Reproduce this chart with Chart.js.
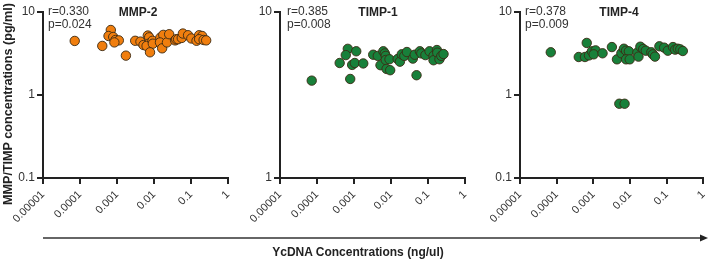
<!DOCTYPE html>
<html>
<head>
<meta charset="utf-8">
<script src="https://cdn.jsdelivr.net/npm/chart.js@4/dist/chart.umd.min.js"></script>
<style>
  html, body { margin: 0; padding: 0; background: #fff; }
  body { width: 709px; height: 261px; position: relative; overflow: hidden; font-family: "Liberation Sans", Arial, sans-serif; color: #333; }
  .cv { position: absolute; top: 0; }
  .txt { position: absolute; font-size: 12px; line-height: 13px; white-space: nowrap; color: #333; }
  .ttl { position: absolute; font-size: 12px; font-weight: bold; white-space: nowrap; color: #222; transform: translateX(-50%); }
  #ylab { position: absolute; left: 8px; top: 104px; font-size: 12.6px; font-weight: bold; color: #222; white-space: nowrap; transform: translate(-50%, -50%) rotate(-90deg); }
  #xlab { position: absolute; left: 358px; top: 245px; font-size: 12px; font-weight: bold; color: #222; white-space: nowrap; transform: translateX(-50%); }
  #arrow { position: absolute; left: 0; top: 0; }
</style>
</head>
<body>
<div class="cv" style="left:0px;width:240px;height:232px;"><canvas id="c1"></canvas></div>
<div class="cv" style="left:240px;width:240px;height:232px;"><canvas id="c2"></canvas></div>
<div class="cv" style="left:470px;width:239px;height:232px;"><canvas id="c3"></canvas></div>
<svg id="arrow" width="709" height="261">
  <line x1="43" y1="238" x2="702" y2="238" stroke="#333" stroke-width="1.6"/>
  <polygon points="708,238 700,234.5 700,241.5" fill="#222"/>
</svg>
<div id="ylab">MMP/TIMP concentrations (pg/ml)</div>
<div id="xlab">YcDNA Concentrations (ng/ul)</div>
<div id="notes"></div>
<script>
// ---- data ----
const panelTitles = ["MMP-2", "TIMP-1", "TIMP-4"];
const rValues = ["r=0.330", "r=0.385", "r=0.378"];
const pValues = ["p=0.024", "p=0.008", "p=0.009"];
const xTickValues = [0.00001, 0.0001, 0.001, 0.01, 0.1, 1];
const xTickLabels = ["0.00001", "0.0001", "0.001", "0.01", "0.1", "1"];
const yTickValuesWide = [0.1, 1, 10];
const yTickLabelsWide = ["0.1", "1", "10"];
const yTickValuesNarrow = [1, 10];
const yTickLabelsNarrow = ["1", "10"];

const mmp2X = [7.2e-5, 4.0e-4, 6.8e-4, 5.9e-4, 7.9e-4, 9.1e-4, 1.12e-3, 8.5e-4, 1.74e-3, 3.1e-3, 4.3e-3, 5.2e-3, 6.8e-3, 7.4e-3, 7.1e-3, 6.3e-3, 9.1e-3, 9.3e-3, 7.8e-3, 0.0148, 0.0178, 0.0145, 0.0166, 0.0224, 0.0257, 0.0372, 0.0398, 0.0447, 0.0562, 0.0603, 0.0832, 0.102, 0.141, 0.166, 0.2, 0.166, 0.219, 0.257];
const mmp2Y = [4.48, 3.9, 6.07, 5.14, 5.0, 4.6, 4.55, 4.3, 2.98, 4.5, 4.4, 4.0, 5.2, 4.95, 4.15, 3.9, 4.5, 4.15, 3.27, 4.9, 5.3, 4.3, 3.65, 4.3, 5.4, 4.55, 4.7, 4.7, 4.87, 5.5, 5.25, 4.8, 4.5, 5.25, 5.14, 4.7, 4.6, 4.55];

const timp1X = [7.2e-5, 6.8e-4, 6.0e-4, 1.15e-3, 4.1e-4, 8.9e-4, 1.05e-3, 1.78e-3, 7.9e-4, 3.3e-3, 4.4e-3, 6.2e-3, 6.8e-3, 7.2e-3, 5.2e-3, 7.2e-3, 9.1e-3, 7.6e-3, 9.5e-3, 0.0151, 0.0174, 0.0195, 0.0229, 0.0269, 0.0389, 0.0437, 0.049, 0.0603, 0.0661, 0.0851, 0.11, 0.141, 0.141, 0.174, 0.178, 0.204, 0.229, 0.263];
const timp1Y = [3.86, 6.0, 5.5, 5.8, 4.93, 4.8, 4.93, 4.9, 3.95, 5.53, 5.44, 5.8, 5.63, 5.44, 4.78, 5.14, 5.19, 4.54, 4.46, 5.21, 5.02, 5.56, 5.44, 5.74, 5.24, 5.53, 4.16, 5.8, 5.63, 5.5, 5.8, 5.44, 5.12, 5.9, 5.69, 5.19, 5.44, 5.58];

const timp4X = [6.9e-5, 6.6e-4, 4.0e-4, 5.9e-4, 7.6e-4, 9.1e-4, 1.15e-3, 1.02e-3, 1.78e-3, 3.2e-3, 4.4e-3, 5.8e-3, 6.8e-3, 7.8e-3, 9.3e-3, 7.8e-3, 9.8e-3, 5.1e-3, 7.1e-3, 0.0158, 0.017, 0.0191, 0.0229, 0.0269, 0.038, 0.0417, 0.0479, 0.0631, 0.0851, 0.107, 0.148, 0.17, 0.2, 0.234, 0.275];
const timp4Y = [3.27, 4.24, 2.87, 2.87, 3.0, 3.36, 3.45, 3.09, 3.18, 3.78, 2.69, 3.18, 3.61, 3.42, 3.36, 2.69, 2.69, 0.785, 0.785, 3.24, 2.9, 3.82, 3.58, 3.42, 3.27, 3.09, 2.9, 3.86, 3.72, 3.42, 3.78, 3.52, 3.61, 3.55, 3.39];

const orange = "#F07E0E";
const green = "#18803A";

// ---- charts ----
function makeChart(id, xs, ys, color, yMin, yTicks, yLabels, yWidth, padRight) {
  const pts = xs.map((x, i) => ({ x: x, y: ys[i] }));
  return new Chart(document.getElementById(id), {
    type: "scatter",
    data: { datasets: [{ data: pts, backgroundColor: color, borderColor: "#3b2a14", borderWidth: 0.9, pointRadius: 4.7, pointHoverRadius: 4.7 }] },
    options: {
      responsive: true, maintainAspectRatio: false, animation: false,
      layout: { padding: { top: 12, right: padRight, left: 0, bottom: 0 } },
      plugins: { legend: { display: false }, tooltip: { enabled: false } },
      scales: {
        x: {
          type: "logarithmic", min: 0.00001, max: 1,
          afterBuildTicks: s => { s.ticks = xTickValues.map(v => ({ value: v })); },
          afterFit: s => { s.height = 54; s.paddingLeft = 0; s.paddingRight = 0; },
          ticks: { minRotation: 45, maxRotation: 45, autoSkip: false, padding: 4, color: "#333",
                   font: { family: "Liberation Sans", size: 11 },
                   callback: (v, i) => xTickLabels[xTickValues.indexOf(v)] },
          grid: { display: true, drawOnChartArea: false, drawTicks: true, tickLength: 6, color: "#222", lineWidth: 2 },
          border: { display: true, color: "#222", width: 2 }
        },
        y: {
          type: "logarithmic", min: yMin, max: 10,
          afterBuildTicks: s => { s.ticks = yTicks.map(v => ({ value: v })); },
          afterFit: s => { s.width = yWidth; },
          ticks: { autoSkip: false, padding: 2, color: "#333",
                   font: { family: "Liberation Sans", size: 12 },
                   callback: (v) => yLabels[yTicks.indexOf(v)] },
          grid: { display: true, drawOnChartArea: false, drawTicks: true, tickLength: 6, color: "#222", lineWidth: 2 },
          border: { display: true, color: "#222", width: 2 }
        }
      }
    }
  });
}

makeChart("c1", mmp2X, mmp2Y, orange, 0.1, yTickValuesWide, yTickLabelsWide, 43, 12);
makeChart("c2", timp1X, timp1Y, green, 1, yTickValuesNarrow, yTickLabelsNarrow, 40, 15);
makeChart("c3", timp4X, timp4Y, green, 0.1, yTickValuesWide, yTickLabelsWide, 50, 5);

// ---- annotations ----
const noteLeft = [48, 287, 525];
const titleCenter = [138, 378, 619];
const notes = document.getElementById("notes");
for (let i = 0; i < 3; i++) {
  const t = document.createElement("div");
  t.className = "txt";
  t.style.left = noteLeft[i] + "px";
  t.style.top = "5px";
  t.innerHTML = rValues[i] + "<br>" + pValues[i];
  notes.appendChild(t);
  const h = document.createElement("div");
  h.className = "ttl";
  h.style.left = titleCenter[i] + "px";
  h.style.top = "5px";
  h.textContent = panelTitles[i];
  notes.appendChild(h);
}
</script>
</body>
</html>
